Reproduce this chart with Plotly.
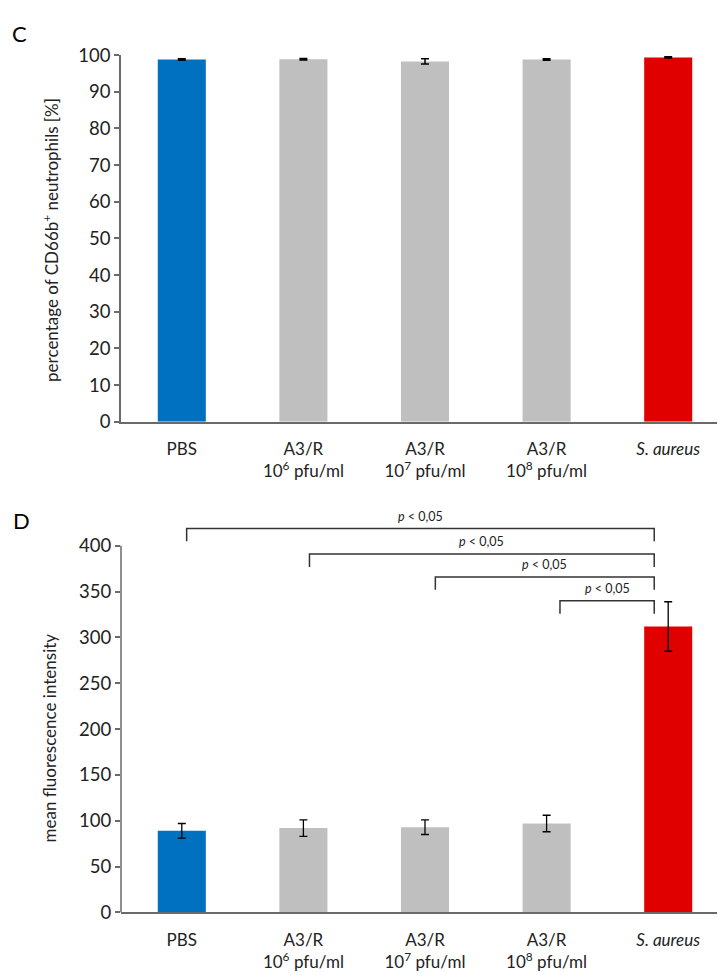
import plotly.graph_objects as go

categories = [
    "PBS",
    "A3/R<br>10<sup>6</sup> pfu/ml",
    "A3/R<br>10<sup>7</sup> pfu/ml",
    "A3/R<br>10<sup>8</sup> pfu/ml",
    "<i>S. aureus</i>",
]
bar_colors = ["#0070C0", "#BFBFBF", "#BFBFBF", "#BFBFBF", "#E00000"]

# Panel C: percentage of CD66b+ neutrophils
c_values = [98.8, 98.9, 98.3, 98.8, 99.4]
c_errors = [0.2, 0.2, 0.7, 0.2, 0.2]
c_ticks = [0, 10, 20, 30, 40, 50, 60, 70, 80, 90, 100]

# Panel D: mean fluorescence intensity
d_values = [89, 92, 93, 97, 312]
d_errors = [8, 9, 8, 9, 27]
d_ticks = [0, 50, 100, 150, 200, 250, 300, 350, 400]

# significance brackets (left category index, right category index, level)
brackets_left = [0.04, 1.05, 2.085, 3.11]
brackets_right = [3.885, 3.885, 3.885, 3.885]
brackets_level = [419, 391, 366, 340]
bracket_drop = 14
bracket_text = "<i>p</i> < 0,05"

FONT = "Lato"
TXT = "#222222"
AX = "#6a6a6a"

W, H = 725, 975


def px_x(p):
    return p / W


def px_y(p):
    return 1 - p / H


xs = list(range(len(categories)))
fig = go.Figure()
fig.add_trace(go.Bar(
    x=xs, y=c_values, marker=dict(color=bar_colors, line=dict(width=0)),
    error_y=dict(type="data", array=c_errors, color="black", thickness=1.5, width=4),
    xaxis="x", yaxis="y", showlegend=False, width=0.395,
))
fig.add_trace(go.Bar(
    x=xs, y=d_values, marker=dict(color=bar_colors, line=dict(width=0)),
    error_y=dict(type="data", array=d_errors, color="black", thickness=1.3, width=4),
    xaxis="x2", yaxis="y2", showlegend=False, width=0.395,
))

xdom = [px_x(113), px_x(721)]
c_top, c_bot = 36, 411
d_bot = 913
d_px_per_unit = (913 - 538) / 400.0
d_range_top = 445
d_top = d_bot - d_range_top * d_px_per_unit

common_x = dict(
    tickmode="array", tickvals=xs, ticktext=categories, range=[-0.5, 4.5],
    showline=True, linecolor=AX, linewidth=1.5, ticks="", showgrid=False,
    zeroline=False, tickfont=dict(family=FONT, size=17, color=TXT),
    ticklabelstandoff=11,
)
fig.update_layout(
    width=W, height=H,
    margin=dict(l=0, r=0, t=0, b=0),
    paper_bgcolor="white", plot_bgcolor="white",
    bargap=0.6,
    xaxis=dict(domain=xdom, anchor="y", **common_x),
    xaxis2=dict(domain=xdom, anchor="y2", **common_x),
    yaxis=dict(
        domain=[px_y(c_bot), px_y(c_top)], anchor="x", range=[0, 100],
        tickmode="array", tickvals=c_ticks, showline=True, linecolor=AX, linewidth=1.5,
        ticks="outside", ticklen=5, tickcolor=AX, tickwidth=1.5, showgrid=False,
        zeroline=False, tickfont=dict(family=FONT, size=18.5, color=TXT),
    ),
    yaxis2=dict(
        domain=[px_y(d_bot), px_y(d_top)], anchor="x2", range=[0, d_range_top],
        tickmode="array", tickvals=d_ticks, showline=False,
        ticks="outside", ticklen=5, tickcolor=AX, tickwidth=1.5, showgrid=False,
        zeroline=False, tickfont=dict(family=FONT, size=18.5, color=TXT),
    ),
)

# y axis line of panel D (only up to the top tick)
fig.add_shape(type="line", xref="x2 domain", yref="y2", x0=0, x1=0, y0=0, y1=d_ticks[-1],
              line=dict(color=AX, width=1.5))

# significance brackets
for xl, xr, lv in zip(brackets_left, brackets_right, brackets_level):
    fig.add_shape(type="path", xref="x2", yref="y2",
                  path=f"M {xl},{lv - bracket_drop} L {xl},{lv} L {xr},{lv} L {xr},{lv - bracket_drop}",
                  line=dict(color="#333333", width=1.5))
    fig.add_annotation(xref="x2", yref="y2", x=(xl + xr) / 2, y=lv + 3, text=bracket_text,
                       showarrow=False, xanchor="center", yanchor="bottom",
                       font=dict(family=FONT, size=12.5, color=TXT))

# axis titles
fig.add_annotation(xref="paper", yref="paper", x=px_x(43), y=px_y(225),
                   xanchor="center", yanchor="middle",
                   text="percentage of CD66b<sup>+</sup> neutrophils [%]", textangle=-90,
                   showarrow=False, font=dict(family=FONT, size=17, color=TXT))
fig.add_annotation(xref="paper", yref="paper", x=px_x(41), y=px_y(735),
                   xanchor="center", yanchor="middle",
                   text="mean fluorescence intensity", textangle=-90,
                   showarrow=False, font=dict(family=FONT, size=17, color=TXT))

# panel letters
fig.add_annotation(xref="paper", yref="paper", x=px_x(11), y=px_y(14), text="C",
                   xanchor="center", yanchor="middle",
                   showarrow=False, font=dict(family=FONT, size=22, color="black"))
fig.add_annotation(xref="paper", yref="paper", x=px_x(13), y=px_y(512), text="D",
                   xanchor="center", yanchor="middle",
                   showarrow=False, font=dict(family=FONT, size=22, color="black"))

fig.write_html("out.html")
